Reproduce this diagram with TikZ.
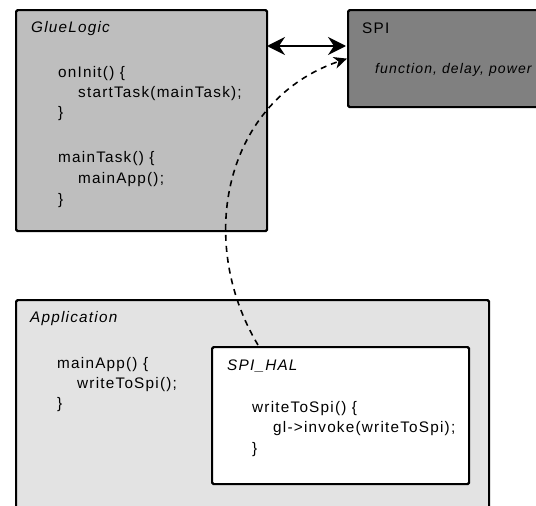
\documentclass[tikz,border=0pt]{standalone}
\usepackage{fontspec}
\setmainfont{Liberation Sans}[LetterSpace=8]
\usetikzlibrary{arrows.meta}

\definecolor{gluegray}{gray}{0.745}
\definecolor{spigray}{gray}{0.5}
\definecolor{appgray}{gray}{0.89}

\tikzset{
  box/.style={draw, line width=2.2pt, rounded corners=1.5pt, anchor=north west, inner sep=0pt},
  title/.style={anchor=base west, inner sep=0pt, font=\fontsize{15.3}{18}\selectfont\itshape},
  code/.style={anchor=base west, inner sep=0pt, font=\fontsize{15.3}{18}\selectfont},
}

\begin{document}
\begin{tikzpicture}[x=1pt, y=-1pt]
\useasboundingbox (0,0) rectangle (536,506);
\clip (0,0) rectangle (536,506);

% boxes
\node[box, fill=gluegray, minimum width=251pt, minimum height=221pt] (glue) at (15,9) {};
\node[box, fill=spigray, minimum width=220pt, minimum height=97pt] (spi) at (347,9) {};
\node[box, fill=appgray, minimum width=473pt, minimum height=240pt] (app) at (15,299) {};
\node[box, fill=white, minimum width=257pt, minimum height=137pt] (hal) at (211,346) {};

% GlueLogic
\node[title] (gluetitle) at (31,32) {GlueLogic};
\node[code] (init1) at (58,77) {onInit() \{};
\node[code] (init2) at (78,97) {startTask(mainTask);};
\node[code] (init3) at (58,117) {\}};
\node[code] (task1) at (58,162) {mainTask() \{};
\node[code] (task2) at (78,183) {mainApp();};
\node[code] (task3) at (58,204) {\}};

% SPI
\node[code] (spititle) at (362,33) {SPI};
\node[title, font=\fontsize{14}{17}\selectfont\itshape] (spiprops) at (375,73) {function, delay, power};

% Application
\node[title] (apptitle) at (30,322) {Application};
\node[code] (main1) at (57,368) {mainApp() \{};
\node[code] (main2) at (77,388) {writeToSpi();};
\node[code] (main3) at (57,408) {\}};

% SPI_HAL
\node[title] (haltitle) at (227,370) {SPI\_HAL};
\node[code] (write1) at (252,412) {writeToSpi() \{};
\node[code] (write2) at (273,432) {gl->invoke(writeToSpi);};
\node[code] (write3) at (252,453) {\}};

% links
\coordinate (gluelink) at (267,46);
\coordinate (spilink) at (346,46);
\coordinate (halcall) at (258,345);

\draw[line width=2pt, {Stealth[length=18pt,width=18pt,inset=6pt]}-{Stealth[length=18pt,width=18pt,inset=6pt]}] (gluelink) -- (spilink);
\draw[line width=1.6pt, dash pattern=on 6pt off 5pt, -{Stealth[length=13pt,width=12pt,inset=4pt]}]
  (halcall) .. controls (195,240) and (225,100) .. (spi.west);
\end{tikzpicture}
\end{document}
